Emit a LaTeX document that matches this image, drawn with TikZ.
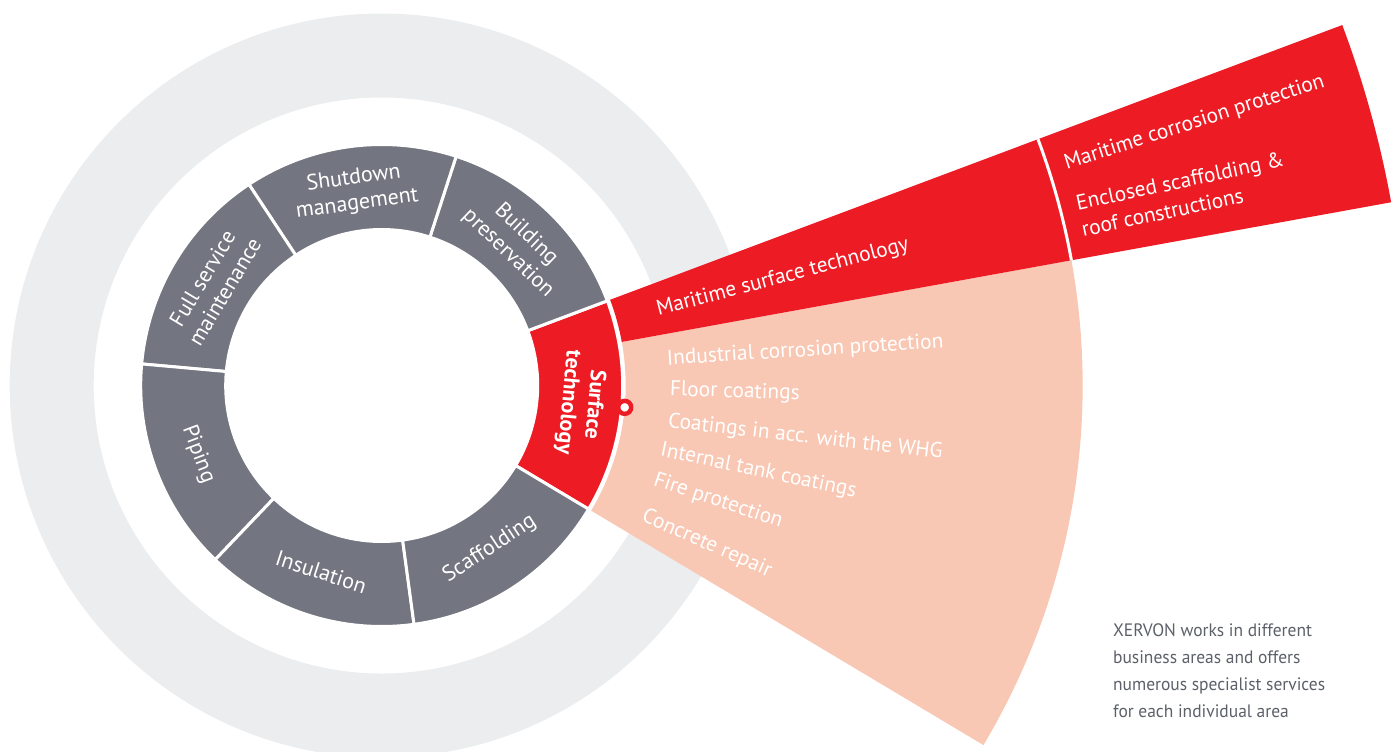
\documentclass[tikz,border=0pt]{standalone}
\usepackage{fontspec}
\setmainfont{PT Sans}
\newfontfamily\capfont[FakeStretch=0.97]{PT Sans}
\usetikzlibrary{calc}

\definecolor{segGray}{HTML}{737680}
\definecolor{xred}{HTML}{ED1C24}
\definecolor{peach}{HTML}{F9C8B4}
\definecolor{ringGray}{HTML}{ECEDEF}
\definecolor{capGray}{HTML}{5C6068}

\tikzset{
    seglbl/.style={text=white, align=center, inner sep=0pt, font=\fontsize{11}{13}\selectfont},
    fanlbl/.style={text=white, align=left, inner sep=0pt, anchor=base west, font=\fontsize{10.7}{13.5}\selectfont},
    dot/.style={circle, fill=white, draw=xred, line width=2.2pt, minimum size=6.5pt, inner sep=0pt},
    caption/.style={text=capGray, align=left, inner sep=0pt, font=\capfont\fontsize{9}{13.5}\selectfont}
}

\begin{document}
\begin{tikzpicture}[x=0.5pt,y=0.5pt]
        \clip (-381.7,-365.5) rectangle (1018.3,385.5);
        \coordinate (O) at (0,0);
        \fill[ringGray, even odd rule] (O) circle (372) (O) circle (288);
        % fan
        \fill[peach] (-30.86:244) -- (-30.86:701) arc[start angle=-30.86, end angle=10.29, radius=701] -- (10.29:244) arc[start angle=10.29, end angle=-30.86, radius=244] -- cycle;
        \fill[xred] (10.29:244) -- (10.29:1026) arc[start angle=10.29, end angle=20.57, radius=1026] -- (20.57:244) arc[start angle=20.57, end angle=10.29, radius=244] -- cycle;
        \draw[white, line width=1.5pt] (10.29:701) arc[start angle=10.29, end angle=20.57, radius=701];
        % ring segments
        \foreach \a/\col in {-30.86/xred, 20.57/segGray, 72/segGray, 123.43/segGray, 174.86/segGray, 226.29/segGray, 277.71/segGray}
            \filldraw[fill=\col, draw=white, line width=1.5pt] (\a:156) -- (\a:241) arc[start angle=\a, end angle={\a+51.43}, radius=241] -- ({\a+51.43}:156) arc[start angle={\a+51.43}, end angle=\a, radius=156] -- cycle;
        \node[seglbl, rotate=-43.71] (BP) at (46.29:196) {Building\\preservation};
        \node[seglbl, rotate=7.71] (SM) at (97.71:196) {Shutdown\\management};
        \node[seglbl, rotate=59.14] (FS) at (149.14:196) {Full service\\maintenance};
        \node[seglbl, rotate=-69.43] (PI) at (200.57:196) {Piping};
        \node[seglbl, rotate=-18] (IN) at (252:196) {Insulation};
        \node[seglbl, rotate=33.43] (SC) at (303.43:196) {Scaffolding};
        \node[seglbl, font=\fontsize{11}{13}\selectfont\bfseries, rotate=-95.14] (ST) at (-5.14:200) {Surface\\technology};
        \node[dot] (D) at (-5.14:244) {};
        % fan labels
        \node[fanlbl, rotate=14.8] (MS) at (14.1:285) {Maritime surface technology};
        \node[fanlbl, rotate=17.7] (MC) at (17.5:718) {Maritime corrosion protection};
        \node[fanlbl, rotate=12] (ES) at (11.97:717) {Enclosed scaffolding \&\\roof constructions};
        \foreach \a/\r/\rot/\txt in {4.1/286/3.6/Industrial corrosion protection, -2/288/-1.8/Floor coatings, -8.3/288.6/-6.5/Coatings in acc. with the WHG, -14.2/286.4/-11.9/Internal tank coatings, -20.2/288.3/-18.4/Fire protection, -27.6/292/-23.7/Concrete repair}
            \node[fanlbl, rotate=\rot] at (\a:\r) {\txt};
        \node[caption, anchor=north west] (CAP) at (731,-237.5) {XERVON works in different\\business areas and offers\\numerous specialist services\\for each individual area};
\end{tikzpicture}
\end{document}
